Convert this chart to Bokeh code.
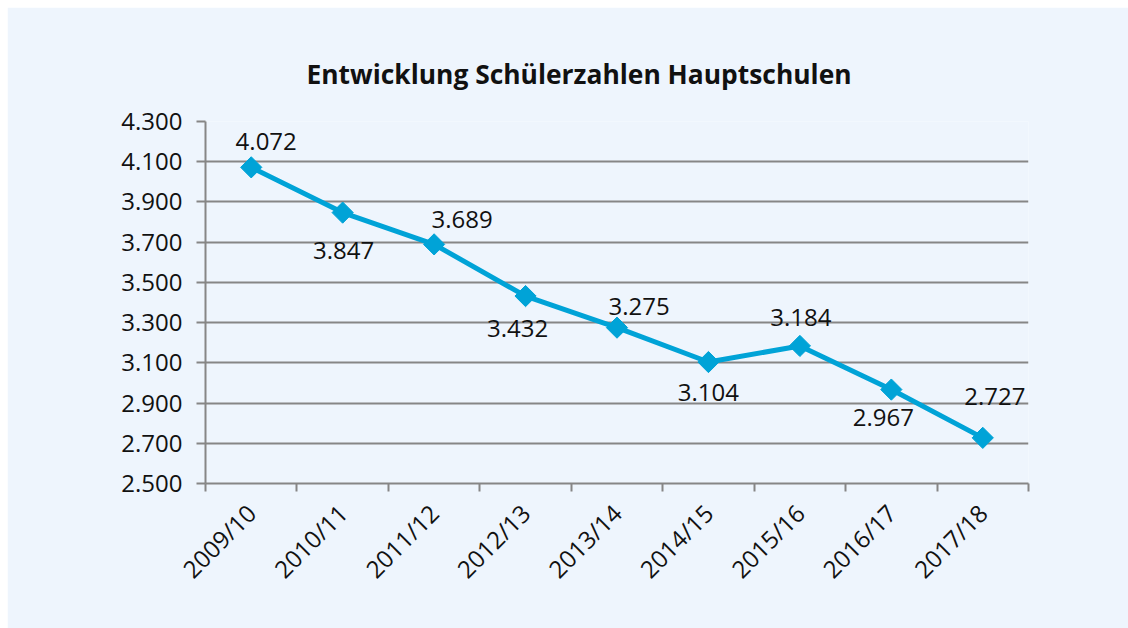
import math
from bokeh.plotting import figure
from bokeh.models import ColumnDataSource, FixedTicker, Range1d
from bokeh.core.properties import value
from bokeh.embed import file_html
from bokeh.resources import INLINE

# ---- data ----
years = ["2009/10", "2010/11", "2011/12", "2012/13", "2013/14",
         "2014/15", "2015/16", "2016/17", "2017/18"]
students = [4072, 3847, 3689, 3432, 3275, 3104, 3184, 2967, 2727]
y_ticks = [2500, 2700, 2900, 3100, 3300, 3500, 3700, 3900, 4100, 4300]

# label placement (screen pixels; dx right, dy up)
label_dx = [15, 1, 28, -8, 22, 0, 1, -8, 12]
label_dy = [26, -38, 25, -32, 21, -30, 28, -28, 41]

def de_fmt(v):
    return f"{v:,}".replace(",", ".")

BG = "#EEF5FD"
GRID = "#868686"
LINE = "#00A3D7"
FONT = "Open Sans"

xs = [i + 0.5 for i in range(len(years))]
src = ColumnDataSource(dict(
    x=xs, y=students,
    label=[de_fmt(v) for v in students],
    dx=label_dx,
    dy=[-d for d in label_dy],
))

p = figure(width=1121, height=621, margin=(7, 0, 0, 7),
           output_backend="svg", toolbar_location=None,
           x_range=Range1d(0, len(years)), y_range=Range1d(y_ticks[0], y_ticks[-1]),
           min_border_left=198, min_border_right=100, min_border_top=114,
           min_border_bottom=145)
p.background_fill_color = BG
p.border_fill_color = BG
p.outline_line_color = None

p.title.text = "Entwicklung Schülerzahlen Hauptschulen"
p.title.text_font = FONT
p.title.text_font_style = "bold"
p.title.text_font_size = "26.4px"
p.title.text_color = "#111111"
p.title.align = "left"
p.title.offset = 101
p.title.standoff = 59

# y axis
p.yaxis.ticker = FixedTicker(ticks=y_ticks)
p.yaxis.major_label_overrides = {t: de_fmt(t) for t in y_ticks}
p.yaxis.major_tick_in = 0
p.yaxis.major_tick_out = 9
p.yaxis.minor_tick_line_color = None
p.yaxis.axis_line_color = GRID
p.yaxis.axis_line_width = 2
p.yaxis.major_tick_line_color = GRID
p.yaxis.major_tick_line_width = 2
p.yaxis.major_label_text_font = FONT
p.yaxis.major_label_text_font_size = "24px"
p.yaxis.major_label_text_color = "#111111"
p.yaxis.major_label_standoff = 14

# x axis: labels at centers, ticks at category boundaries
p.xaxis.ticker = FixedTicker(ticks=xs, minor_ticks=list(range(len(years) + 1)))
p.xaxis.major_label_overrides = {x: y for x, y in zip(xs, years)}
p.xaxis.major_tick_line_color = None
p.xaxis.minor_tick_in = 0
p.xaxis.minor_tick_out = 8
p.xaxis.minor_tick_line_color = GRID
p.xaxis.minor_tick_line_width = 2
p.xaxis.axis_line_color = GRID
p.xaxis.axis_line_width = 2
p.xaxis.major_label_orientation = math.pi / 4
p.xaxis.major_label_text_font = FONT
p.xaxis.major_label_text_font_size = "24px"
p.xaxis.major_label_text_color = "#111111"
p.xaxis.major_label_standoff = 17

p.xgrid.grid_line_color = None
p.ygrid.ticker = FixedTicker(ticks=y_ticks)
p.ygrid.grid_line_color = GRID
p.ygrid.grid_line_width = 2

p.line("x", "y", source=src, line_color=LINE, line_width=5)
p.scatter("x", "y", source=src, marker="square", size=15, angle=math.pi / 4,
          fill_color=LINE, line_color=LINE)
p.text("x", "y", text="label", source=src, x_offset="dx", y_offset="dy",
       text_align="center", text_baseline="middle",
       text_font=value(FONT), text_font_size="24px", text_color="#111111")

open("out.html", "w").write(file_html(p, INLINE))
